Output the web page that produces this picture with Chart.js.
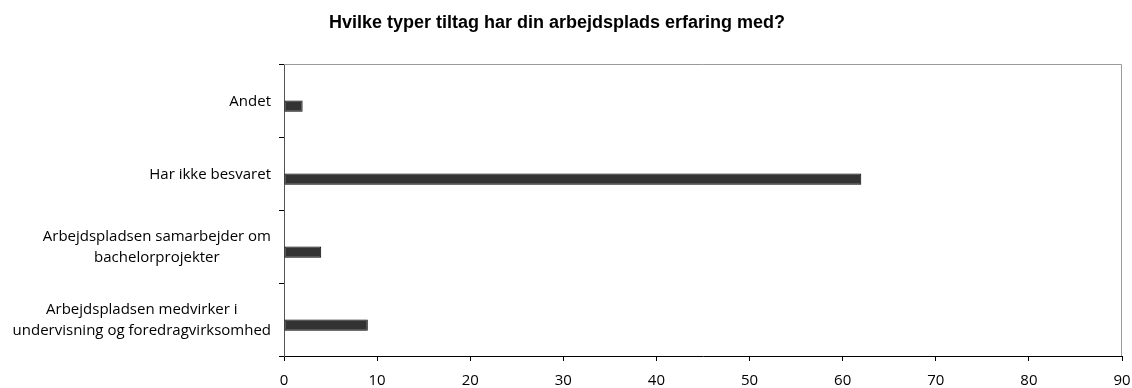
<!DOCTYPE html>
<html>
<head>
<meta charset="utf-8">
<script src="https://cdn.jsdelivr.net/npm/chart.js@4"></script>
<style>
  html, body { margin: 0; padding: 0; background: #ffffff; }
  canvas { display: block; }
</style>
</head>
<body>
<canvas id="chart" width="1132" height="388"></canvas>
<script>
// Survey answers: what kinds of initiatives the workplace has experience with
const titleText = 'Hvilke typer tiltag har din arbejdsplads erfaring med?';
const categories = [
  'Andet',
  'Har ikke besvaret',
  ['Arbejdspladsen samarbejder om', 'bachelorprojekter'],
  ['Arbejdspladsen medvirker i', 'undervisning og foredragvirksomhed']
];
const answerCounts = [2, 62, 4, 9];
const xTicks = { min: 0, max: 90, step: 10 };

const labelFont = '15px "Open Sans"';
const labelLineHeight = 21;
const labelRightEdge = 271;

// Category labels: each block right-aligned against the axis, lines centred inside the block
const categoryLabels = {
  id: 'categoryLabels',
  afterDraw(chart) {
    const scale = chart.scales.y;
    const ctx = chart.ctx;
    ctx.save();
    ctx.font = labelFont;
    ctx.fillStyle = '#000000';
    ctx.textAlign = 'center';
    ctx.textBaseline = 'middle';
    categories.forEach((label, i) => {
      const lines = Array.isArray(label) ? label : [label];
      const blockWidth = Math.max(...lines.map(l => ctx.measureText(l).width));
      const cx = labelRightEdge - blockWidth / 2;
      const cy = scale.getPixelForTick(i) + 1;
      lines.forEach((line, j) => {
        ctx.fillText(line, cx, cy + (j - (lines.length - 1) / 2) * labelLineHeight);
      });
    });
    ctx.restore();
  }
};

// Light frame on the top and right of the plot area, plus the chart title
const frameAndTitle = {
  id: 'frameAndTitle',
  beforeDatasetsDraw(chart) {
    const { left, right, top, bottom } = chart.chartArea;
    const ctx = chart.ctx;
    ctx.save();
    ctx.strokeStyle = '#9a9a9a';
    ctx.lineWidth = 1;
    ctx.beginPath();
    ctx.moveTo(left, top + 0.5);
    ctx.lineTo(right - 0.5, top + 0.5);
    ctx.lineTo(right - 0.5, bottom);
    ctx.stroke();
    ctx.restore();
  },
  afterDraw(chart) {
    const ctx = chart.ctx;
    ctx.save();
    ctx.font = 'bold 18px "Liberation Sans", Arial, sans-serif';
    ctx.fillStyle = '#000000';
    ctx.textAlign = 'center';
    ctx.textBaseline = 'alphabetic';
    ctx.fillText(titleText, 557, 28);
    ctx.restore();
  }
};

new Chart(document.getElementById('chart'), {
  type: 'bar',
  data: {
    labels: categories,
    datasets: [
      { label: 'spacer', data: [] },
      {
        label: 'Antal',
        data: answerCounts,
        backgroundColor: '#333333',
        borderColor: '#000000',
        borderWidth: 1,
        borderSkipped: false
      }
    ]
  },
  options: {
    indexAxis: 'y',
    responsive: false,
    animation: false,
    devicePixelRatio: 1,
    categoryPercentage: 0.31,
    barPercentage: 1.0,
    layout: { padding: { top: 64, right: 10, bottom: 0, left: 0 } },
    plugins: {
      legend: { display: false },
      title: { display: false },
      tooltip: { enabled: false }
    },
    scales: {
      x: {
        type: 'linear',
        min: xTicks.min,
        max: xTicks.max,
        ticks: {
          stepSize: xTicks.step,
          color: '#000000',
          font: { family: 'Open Sans', size: 15 },
          padding: 11
        },
        grid: {
          drawOnChartArea: false,
          drawTicks: true,
          tickLength: 5,
          color: '#000000'
        },
        border: { color: '#000000', width: 1 },
        afterFit(scale) {
          scale.height = 32;
          scale.paddingLeft = 0;
          scale.paddingRight = 0;
        }
      },
      y: {
        type: 'category',
        offset: true,
        ticks: { display: false },
        grid: {
          offset: true,
          drawOnChartArea: false,
          drawTicks: true,
          tickLength: 5,
          color: '#000000'
        },
        border: { color: '#555555', width: 1 },
        afterFit(scale) { scale.width = 284; }
      }
    }
  },
  plugins: [categoryLabels, frameAndTitle]
});
</script>
</body>
</html>
